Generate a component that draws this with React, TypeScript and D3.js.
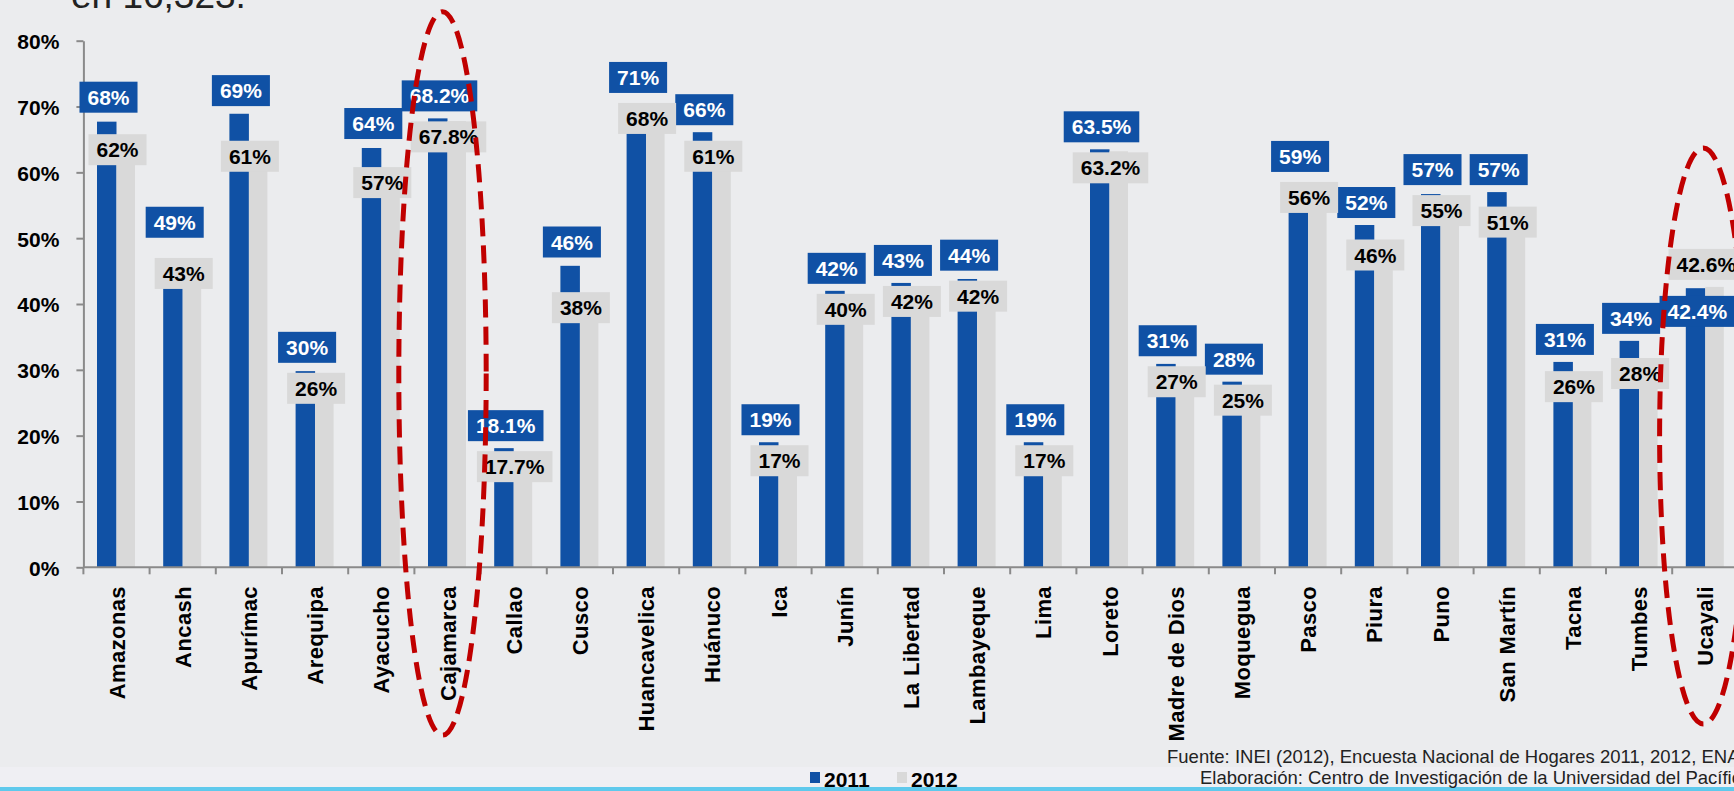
import React, { useEffect, useRef } from 'react';
import * as d3 from 'd3';

// regiones del Perú
const regions = [
  'Amazonas', 'Ancash', 'Apurímac', 'Arequipa', 'Ayacucho', 'Cajamarca', 'Callao',
  'Cusco', 'Huancavelica', 'Huánuco', 'Ica', 'Junín', 'La Libertad', 'Lambayeque',
  'Lima', 'Loreto', 'Madre de Dios', 'Moquegua', 'Pasco', 'Piura', 'Puno',
  'San Martín', 'Tacna', 'Tumbes', 'Ucayali',
];

// bar heights (%) as drawn
const values2011 = [
  67.7, 44.2, 68.9, 29.8, 63.7, 68.2, 18.1, 45.8, 70.5, 66.1, 19, 42, 43.2, 43.8,
  19, 63.5, 30.9, 28.2, 58.5, 52, 56.7, 57, 31.2, 34.4, 42.4,
];
const values2012 = [
  61.7, 43.2, 60.9, 26, 56.4, 67.8, 17.5, 37.9, 68, 60.5, 16.5, 40, 42, 42,
  17, 63.2, 27, 25, 56, 46, 55, 50.8, 26, 28, 42.6,
];

// data labels as printed
const labels2011 = [
  '68%', '49%', '69%', '30%', '64%', '68.2%', '18.1%', '46%', '71%', '66%', '19%', '42%',
  '43%', '44%', '19%', '63.5%', '31%', '28%', '59%', '52%', '57%', '57%', '31%', '34%', '42.4%',
];
const labels2012 = [
  '62%', '43%', '61%', '26%', '57%', '67.8%', '17.7%', '38%', '68%', '61%', '17%', '40%',
  '42%', '42%', '17%', '63.2%', '27%', '25%', '56%', '46%', '55%', '51%', '26%', '28%', '42.6%',
];

const yTicks = [0, 10, 20, 30, 40, 50, 60, 70, 80];
const years = ['2011', '2012'];
const highlighted = ['Cajamarca', 'Ucayali'];

const sourceLines = [
  'Fuente: INEI (2012), Encuesta Nacional de Hogares 2011, 2012, ENAHO.',
  'Elaboración: Centro de Investigación de la Universidad del Pacífico',
];

const BLUE = '#1051A5';
const GRAY = '#D9D9D9';
const FONT = "'Liberation Sans', Arial, Helvetica, sans-serif";

const App = () => {
  const chartRef = useRef<SVGSVGElement>(null);

  useEffect(() => {
    const width = 1734, height = 791;
    const left = 83.4, bandW = 66.2;
    const bottom = 567.3, top = 40.7;

    const svg = d3.select(chartRef.current);
    svg.selectAll('*').remove();
    svg.attr('width', width).attr('height', height).style('font-family', FONT);

    // background
    svg.append('rect').attr('width', width).attr('height', height).attr('fill', '#EBECEE');
    svg.append('rect').attr('y', 767).attr('width', width).attr('height', 20).attr('fill', '#EFEFF3');
    svg.append('rect').attr('y', 787).attr('width', width).attr('height', 4).attr('fill', '#5FC9EC');

    // title fragment cut off at the top
    svg.append('text')
      .attr('x', 71).attr('y', 8)
      .attr('font-size', 37).attr('fill', '#222')
      .text('en 16,323.');

    const x = d3.scaleBand<string>()
      .domain(regions)
      .range([left, left + bandW * regions.length])
      .padding(0);

    const y = d3.scaleLinear().domain([0, 80]).range([bottom, top]);

    const bw = x.bandwidth();
    const barW = 19.5;
    const cx = (r: string) => (x(r) as number) + bw / 2;

    // bars
    svg.selectAll('.bar2011')
      .data(regions)
      .enter()
      .append('rect')
      .attr('x', d => cx(d) - barW)
      .attr('y', (d, i) => y(values2011[i]))
      .attr('width', barW)
      .attr('height', (d, i) => bottom - y(values2011[i]))
      .attr('fill', BLUE);

    svg.selectAll('.bar2012')
      .data(regions)
      .enter()
      .append('rect')
      .attr('x', d => cx(d))
      .attr('y', (d, i) => y(values2012[i]))
      .attr('width', barW - 1)
      .attr('height', (d, i) => bottom - y(values2012[i]))
      .attr('fill', GRAY);

    // y axis
    const yAxis = svg.append('g')
      .attr('transform', `translate(${left},0)`)
      .call(d3.axisLeft(y).tickValues(yTicks).tickSize(7).tickSizeOuter(0).tickPadding(17).tickFormat(d => `${d}%`));
    yAxis.select('.domain').attr('stroke', '#8A8A8A').attr('stroke-width', 2);
    yAxis.selectAll('.tick line').attr('stroke', '#8A8A8A').attr('stroke-width', 2);
    yAxis.selectAll('.tick text')
      .attr('font-size', 21).attr('font-weight', 'bold').attr('fill', '#000')
      .attr('font-family', FONT).attr('dy', '0.38em');

    // x axis line + tick marks between categories
    svg.append('line')
      .attr('x1', left).attr('x2', width)
      .attr('y1', bottom).attr('y2', bottom)
      .attr('stroke', '#8A8A8A').attr('stroke-width', 2);

    svg.selectAll('.xtick')
      .data(regions)
      .enter()
      .append('line')
      .attr('x1', d => x(d) as number).attr('x2', d => x(d) as number)
      .attr('y1', bottom).attr('y2', bottom + 7)
      .attr('stroke', '#8A8A8A').attr('stroke-width', 2);

    svg.selectAll('.xlabel')
      .data(regions)
      .enter()
      .append('text')
      .attr('transform', d => `translate(${cx(d) + 8},586) rotate(-90)`)
      .attr('text-anchor', 'end')
      .attr('font-size', 22).attr('font-weight', 'bold').attr('fill', '#000')
      .attr('letter-spacing', 0.4)
      .text(d => d);

    // data label boxes
    const boxH = 31, gap = 10;
    const layout = regions.map((r, i) => {
      const lb = parseFloat(labels2011[i]);
      const lg = parseFloat(labels2012[i]);
      const vb = Math.max(values2011[i], lb);
      const vg = Math.max(values2012[i], lg);
      let blueTop: number, grayTop: number;
      if (lb >= lg) {
        const bb = y(vb) - 7;
        blueTop = bb - boxH;
        grayTop = Math.max(y(vg) - 25, bb + gap);
      } else {
        const gb = y(vg) - 7;
        grayTop = gb - boxH;
        blueTop = Math.max(y(vb) - 22, gb + gap + 6);
      }
      return { r, i, blueTop, grayTop };
    });

    const drawLabels = (which: '2011' | '2012') => {
      const isBlue = which === '2011';
      const g = svg.append('g');
      layout.forEach(l => {
        const txt = isBlue ? labels2011[l.i] : labels2012[l.i];
        const center = cx(l.r) + (isBlue ? -8 : 1);
        const ty = isBlue ? l.blueTop : l.grayTop;
        const box = g.append('rect').attr('fill', isBlue ? BLUE : GRAY);
        const t = g.append('text')
          .attr('x', center).attr('y', ty + boxH / 2 + 7.5)
          .attr('text-anchor', 'middle')
          .attr('font-size', 21).attr('font-weight', 'bold')
          .attr('fill', isBlue ? '#fff' : '#000')
          .text(txt);
        const tw = (t.node() as SVGTextElement).getComputedTextLength();
        const w = tw + 16;
        box.attr('x', center - w / 2).attr('y', ty).attr('width', w).attr('height', boxH);
      });
    };
    drawLabels('2011');
    drawLabels('2012');

    // red dashed highlight ellipses
    svg.selectAll('.hl')
      .data(highlighted)
      .enter()
      .append('ellipse')
      .attr('cx', d => cx(d) - (d === 'Ucayali' ? 2 : 5))
      .attr('cy', d => d === 'Ucayali' ? (y(63.7) + y(-23.8)) / 2 : (y(84.4) + y(-25.5)) / 2)
      .attr('rx', bw * 0.66)
      .attr('ry', d => d === 'Ucayali' ? (y(-23.8) - y(63.7)) / 2 : (y(-25.5) - y(84.4)) / 2)
      .attr('fill', 'none')
      .attr('stroke', '#C00000')
      .attr('stroke-width', 5)
      .attr('stroke-dasharray', '18 9');

    // legend
    const legend = svg.append('g');
    years.forEach((yr, k) => {
      const lx = 810 + k * 87;
      legend.append('rect')
        .attr('x', lx).attr('y', 772).attr('width', 10).attr('height', 11)
        .attr('fill', k === 0 ? BLUE : GRAY);
      legend.append('text')
        .attr('x', lx + 14).attr('y', 787)
        .attr('font-size', 21).attr('font-weight', 'bold').attr('fill', '#000')
        .text(yr);
    });

    // source note
    sourceLines.forEach((s, k) => {
      svg.append('text')
        .attr('x', k === 0 ? 1167 : 1200)
        .attr('y', k === 0 ? 763 : 784)
        .attr('font-size', 18.5).attr('fill', '#222')
        .text(s);
    });
  }, []);

  return (
    <svg ref={chartRef} style={{ position: 'absolute', left: 0, top: 0, display: 'block' }}></svg>
  );
};

export default App;
